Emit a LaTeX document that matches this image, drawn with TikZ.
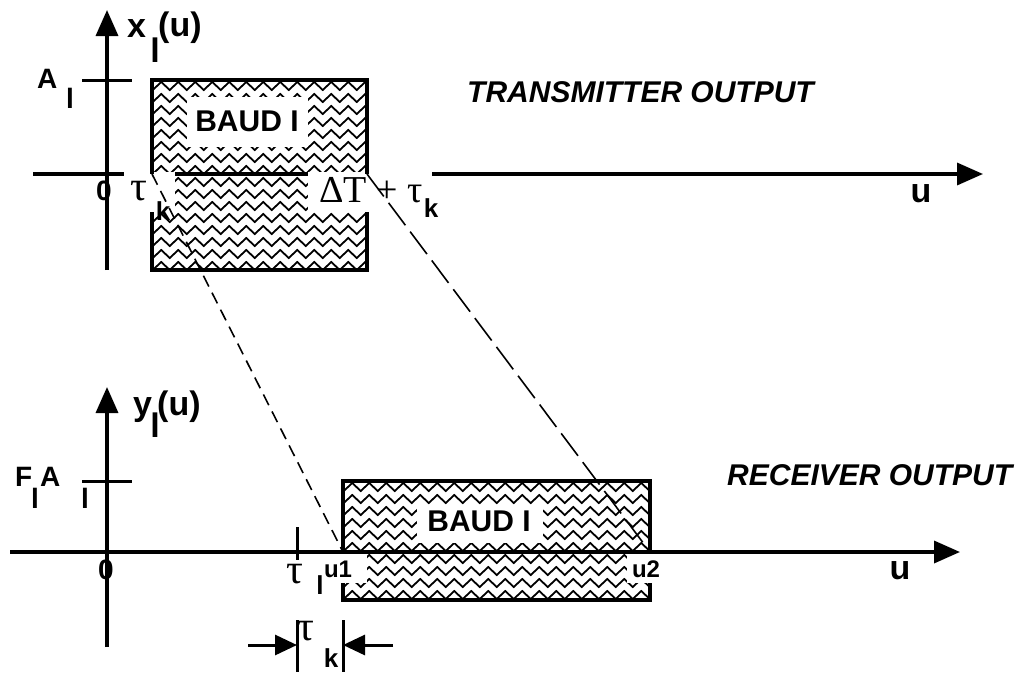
\documentclass[tikz,border=0pt]{standalone}
\usepackage{fontspec}
\setsansfont{Liberation Sans}
\newfontfamily\greekfont{Liberation Serif}
\usetikzlibrary{arrows.meta, decorations.pathmorphing, positioning}

\tikzset{
  axis/.style={line width=3.5pt, -{Triangle[length=26pt,width=22pt]}},
  rim/.style={line width=3.5pt, line join=miter},
  tickmark/.style={line width=3pt},
  dimarrow/.style={line width=3pt, -{Triangle[length=22pt,width=20pt]}},
  wave/.style={line width=1.8pt, decorate,
               decoration={zigzag, segment length=17pt, amplitude=4pt}},
  guide/.style={line width=1.6pt, dash pattern=on 12pt off 7pt},
  longguide/.style={line width=1.6pt, dash pattern=on 28pt off 8pt},
  lab/.style={font=\fontsize{28}{32}\selectfont\sffamily\bfseries, inner sep=0pt},
  biglab/.style={font=\fontsize{34}{38}\selectfont\sffamily\bfseries, inner sep=0pt},
  sublab/.style={font=\fontsize{26}{30}\selectfont\sffamily\bfseries, inner sep=0pt},
  smalllab/.style={font=\fontsize{24}{28}\selectfont\sffamily\bfseries, inner sep=0pt},
  greek/.style={font=\fontsize{42}{46}\selectfont\greekfont, inner sep=0pt},
  shiftlab/.style={font=\fontsize{38}{42}\selectfont\greekfont, inner sep=0pt},
  title/.style={font=\fontsize{30}{34}\selectfont\sffamily\bfseries\itshape, inner sep=0pt},
}

\begin{document}
\begin{tikzpicture}[x=1pt, y=-1pt]
\useasboundingbox (0,0) rectangle (1030,672);

% axes end points
\coordinate (xbot) at (107,270);
\coordinate (xtop) at (107,10);
\coordinate (ubeg1) at (33,174);
\coordinate (uend1) at (983,174);
\coordinate (ybot) at (107,647);
\coordinate (ytop) at (107,387);
\coordinate (ubeg2) at (10,552);
\coordinate (uend2) at (960,552);

% pulse corners on the u axes
\coordinate (txleft) at (152,174);
\coordinate (txright) at (367,174);
\coordinate (rxleft) at (343,552);
\coordinate (rxright) at (650,552);

% hatched pulses
\begin{scope}
  \clip (152,80) rectangle (367,270);
  \foreach \r in {86,98,...,266}
    \draw[wave] (140,\r) -- (380,\r);
\end{scope}
\begin{scope}
  \clip (343,481) rectangle (650,600);
  \foreach \r in {487,499,...,595}
    \draw[wave] (331,\r) -- (662,\r);
\end{scope}

% axes
\draw[axis] (xbot) -- (xtop);
\draw[axis] (ubeg1) -- (uend1);
\draw[axis] (ybot) -- (ytop);
\draw[axis] (ubeg2) -- (uend2);

% white gaps for the labels
\fill[white] (187,97) rectangle (308,147);
\fill[white] (124,172.3) rectangle (175,212);
\fill[white] (308,172.3) rectangle (432,212);
\fill[white] (417,505) rectangle (543,543);
\fill[white] (326,554) rectangle (367,583);
\fill[white] (627,554) rectangle (662,583);

% pulse outlines
\draw[rim] (152,174) -- (152,80) -- (367,80) -- (367,174);
\draw[rim] (152,212) -- (152,270) -- (367,270) -- (367,212);
\draw[rim] (343,553) -- (343,481) -- (650,481) -- (650,553);
\draw[rim] (343,583) -- (343,600) -- (650,600) -- (650,583);

% ticks
\draw[tickmark] (82,80) -- (132,80);
\draw[tickmark] (82,481) -- (132,481);
\draw[tickmark] (297,527) -- (297,560);

% delay dimension
\coordinate (dimleft) at (248,645);
\coordinate (dimright) at (393,645);
\coordinate (barleft) at (297,645);
\coordinate (barright) at (343,645);
\draw[tickmark] (297,620) -- (297,672);
\draw[tickmark] (343,620) -- (343,672);
\draw[dimarrow] (dimleft) -- (barleft);
\draw[dimarrow] (dimright) -- (barright);

% transmitter labels
\node[biglab, anchor=base west] (xname) at (127,37) {x};
\node[biglab, anchor=base] (xsub) at (155,62) {l};
\node[biglab, anchor=base west] (xarg) at (158,36) {(u)};
\node[lab, anchor=base west] (amp) at (37,88) {A};
\node[lab, anchor=base] (ampsub) at (70,108) {l};
\node[lab, anchor=base] (zero1) at (104,200) {0};
\node[greek, anchor=base] (tau1) at (139,200) {τ};
\node[sublab, anchor=base] (tau1sub) at (163,220) {k};
\node[shiftlab, anchor=base west] (shift) at (319,202) {ΔT + τ};
\node[sublab, anchor=base] (shiftsub) at (431,217) {k};
\node[biglab, anchor=base] (u1axis) at (921,202) {u};
\node[title, anchor=base west] (txtitle) at (467,102) {TRANSMITTER OUTPUT};
\node[title] (baud1) at (247,121) {\upshape BAUD I};

% receiver labels
\node[biglab, anchor=base west] (yname) at (133,415) {y};
\node[biglab, anchor=base] (ysub) at (155,437) {l};
\node[biglab, anchor=base west] (yarg) at (157,415) {(u)};
\node[lab, anchor=base west] (gain) at (15,486) {F};
\node[lab, anchor=base] (gainsub) at (35,508) {l};
\node[lab, anchor=base west] (gainamp) at (40,486) {A};
\node[lab, anchor=base] (gainampsub) at (85,508) {l};
\node[lab, anchor=base] (zero2) at (106,579) {0};
\node[greek, anchor=base] (taul) at (295,583) {τ};
\node[sublab, anchor=base] (taulsub) at (320,594) {l};
\node[smalllab] (ustart) at (338,569) {u1};
\node[smalllab] (uend) at (646,569) {u2};
\node[biglab, anchor=base] (u2axis) at (900,579) {u};
\node[title, anchor=base west] (rxtitle) at (727,485) {RECEIVER OUTPUT};
\node[title] (baud2) at (479,521) {\upshape BAUD I};
\node[greek, anchor=base] (taudim) at (306,640) {τ};
\node[sublab, anchor=base] (taudimsub) at (331,667) {k};

% delay guides
\draw[guide] (txleft) -- (rxleft);
\draw[longguide] (txright) -- (rxright);
\end{tikzpicture}
\end{document}
